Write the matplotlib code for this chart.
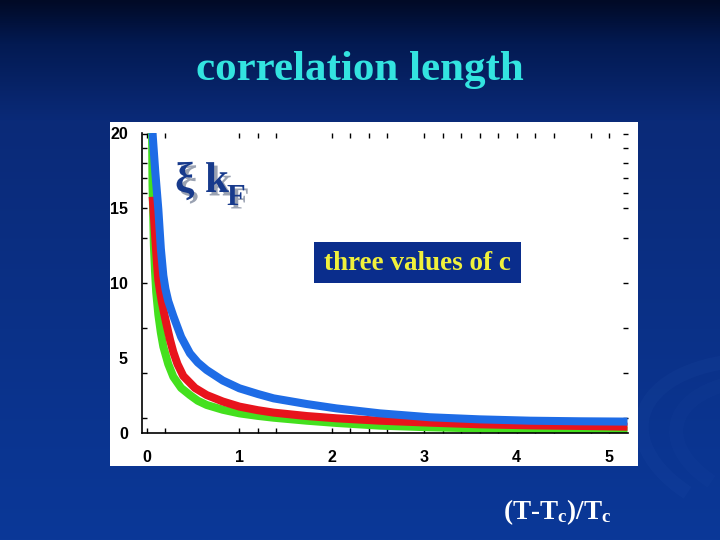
import matplotlib.pyplot as plt
import matplotlib.patheffects as pe
from matplotlib.patches import Rectangle, Arc
from matplotlib.colors import LinearSegmentedColormap
import numpy as np

plt.rcParams['mathtext.fontset'] = 'custom'
plt.rcParams['mathtext.rm'] = 'Liberation Serif:bold'
plt.rcParams['mathtext.it'] = 'Liberation Serif:bold'

# curves (x = (T-Tc)/Tc, y = xi kF)
blue_x = [0.06, 0.09, 0.123, 0.15, 0.177, 0.2, 0.23, 0.285, 0.37, 0.465, 0.55, 0.646, 0.82, 1.0, 1.2, 1.37, 1.73, 2.05, 2.52, 3.06, 3.6, 4.15, 4.69, 5.2]
blue_y = [20.0, 17.4, 14.9, 12.3, 10.5, 9.6, 8.8, 7.8, 6.4, 5.31, 4.7, 4.2, 3.5, 2.98, 2.6, 2.31, 1.93, 1.64, 1.31, 1.05, 0.91, 0.82, 0.78, 0.76]

red_x = [0.062, 0.09, 0.11, 0.123, 0.14, 0.159, 0.185, 0.213, 0.25, 0.285, 0.33, 0.393, 0.52, 0.646, 0.82, 1.0, 1.2, 1.37, 1.73, 2.05, 2.52, 3.06, 3.6, 4.15, 4.69, 5.2]
red_y = [15.75, 13.0, 11.2, 10.2, 9.5, 8.8, 8.0, 7.2, 6.2, 5.4, 4.6, 3.8, 3.0, 2.53, 2.1, 1.76, 1.52, 1.36, 1.13, 0.98, 0.82, 0.69, 0.58, 0.51, 0.47, 0.42]

green_x = [0.055, 0.06, 0.075, 0.087, 0.1, 0.123, 0.15, 0.177, 0.23, 0.285, 0.37, 0.465, 0.55, 0.646, 0.82, 1.0, 1.2, 1.37, 1.73, 2.05, 2.52, 3.06, 3.6, 4.15, 4.69, 5.2]
green_y = [20.0, 16.6, 12.5, 10.8, 9.4, 7.9, 6.7, 5.76, 4.6, 3.75, 3.0, 2.53, 2.15, 1.87, 1.55, 1.31, 1.14, 1.02, 0.82, 0.67, 0.49, 0.38, 0.31, 0.24, 0.20, 0.16]

x_labels = [0, 1, 2, 3, 4, 5]
x_minor = [0, 0.2, 1, 1.2, 1.4, 2, 2.2, 2.4, 2.6, 3, 3.2, 3.4, 3.6, 3.8, 4, 4.2, 4.4, 4.8, 5]
y_labels = [0, 5, 10, 15, 20]
y_minor = [1, 4, 7, 10, 13, 15, 16, 17, 18, 19, 19.9]

fig = plt.figure(figsize=(7.2, 5.4), dpi=100)

# slide background
bg = fig.add_axes([0, 0, 1, 1], zorder=-10)
cmap = LinearSegmentedColormap.from_list(
    "slide", [(0, "#010a26"), (0.08, "#031a52"), (0.22, "#0a2a78"), (1, "#0b3898")])
grad = np.linspace(0, 1, 256).reshape(-1, 1)
bg.imshow(grad, aspect="auto", cmap=cmap, extent=[0, 720, 0, 540], origin="upper")
# faint swirls at the lower right
for r, a in [(150, 0.06), (115, 0.045)]:
    bg.add_patch(Arc((790, 95), 2 * r, 1.1 * r, angle=-10, theta1=100, theta2=215,
                     color="#4a78d0", lw=10, alpha=a))
bg.set_xlim(0, 720)
bg.set_ylim(0, 540)
bg.set_axis_off()

# white plot panel
fig.patches.append(Rectangle((110 / 720, 1 - 466 / 540), 528 / 720, 344 / 540,
                             transform=fig.transFigure, facecolor="white",
                             edgecolor="none", zorder=-5))

ax = fig.add_axes([141.7 / 720, 1 - 433 / 540, (627.5 - 141.7) / 720, 300 / 540])
ax.set_facecolor("none")

ax.plot(green_x, green_y, color="#44e01e", lw=5.8, solid_capstyle="butt", solid_joinstyle="round")
ax.plot(red_x, red_y, color="#e8141c", lw=5.8, solid_capstyle="butt", solid_joinstyle="round")
ax.plot(blue_x, blue_y, color="#1e6ce6", lw=5.8, solid_capstyle="butt", solid_joinstyle="round")

ax.set_xlim(-0.057, 5.2)
ax.set_ylim(0, 20)

for s in ["top", "right"]:
    ax.spines[s].set_visible(False)
for s in ["left", "bottom"]:
    ax.spines[s].set_linewidth(1.2)

ax.xaxis.remove_overlapping_locs = False
ax.yaxis.remove_overlapping_locs = False
ax.set_xticks(x_labels)
ax.set_xticklabels([str(v) for v in x_labels])
ax.set_xticks(x_minor, minor=True)
ax.set_yticks(y_labels)
ax.set_yticklabels([str(v) for v in y_labels])
ax.set_yticks(y_minor, minor=True)

ax.tick_params(axis="x", which="major", length=0, pad=12)
ax.tick_params(axis="y", which="major", length=0, pad=10)
ax.tick_params(which="minor", direction="in", length=3.5, width=1,
               top=True, right=True, bottom=True, left=True)
for lab in ax.get_xticklabels() + ax.get_yticklabels():
    lab.set_fontfamily("Liberation Sans")
    lab.set_fontweight("bold")
    lab.set_fontsize(11.5)

# title
fig.text(0.5, 1 - 70 / 540, "correlation length", ha="center", va="center",
         color="#33e4e0", fontsize=31, fontweight="bold", family="Liberation Serif")

# xi kF label with shadow
shadow = [pe.SimplePatchShadow(offset=(2.5, -2.5), shadow_rgbFace="#9aa2b2", alpha=1), pe.Normal()]
fig.text(175 / 720, 1 - 192 / 540, "ξ k", ha="left", va="baseline", color="#173a8c",
         fontsize=31, fontweight="bold", family="Liberation Serif", path_effects=shadow)
fig.text(227 / 720, 1 - 205 / 540, "F", ha="left", va="baseline", color="#173a8c",
         fontsize=22, fontweight="bold", family="Liberation Serif", path_effects=shadow)

# "three values of c" box
fig.patches.append(Rectangle((314 / 720, 1 - 283 / 540), 207 / 720, 41 / 540,
                             transform=fig.transFigure, facecolor="#0a2d8c",
                             edgecolor="none", zorder=5))
fig.text(417 / 720, 1 - 263 / 540, "three values of c", ha="center", va="center",
         color="#f0f03c", fontsize=19.5, fontweight="bold", family="Liberation Serif", zorder=6)

# x axis label
fig.text(557 / 720, 1 - 512 / 540, r"(T-T$_\mathrm{c}$)/T$_\mathrm{c}$", ha="center", va="center",
         color="white", fontsize=19.5, fontweight="bold", family="Liberation Serif")

fig.savefig("out.png", dpi=100)
